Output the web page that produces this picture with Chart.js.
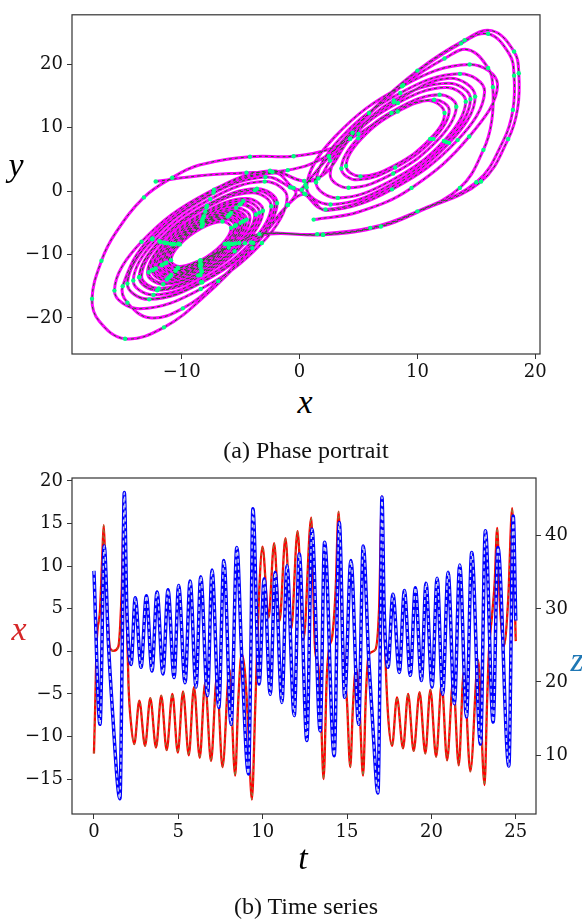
<!DOCTYPE html>
<html>
<head>
<meta charset="utf-8">
<script src="https://cdn.jsdelivr.net/npm/chart.js@4.4.0/dist/chart.umd.min.js"></script>
<style>
body { margin: 0; background: #fff; width: 582px; height: 919px; position: relative; overflow: hidden; }
canvas { position: absolute; left: 0; }
.lbl { position: absolute; font-family: "Liberation Serif", serif; font-style: italic; transform: translate(-50%, -50%); line-height: 1; white-space: nowrap; }
.cap { position: absolute; font-family: "Liberation Serif", serif; font-size: 24px; transform: translate(-50%, -50%); line-height: 1; white-space: nowrap; color: #111; }
</style>
</head>
<body>
<canvas id="phase" width="582" height="380" style="top:0"></canvas>
<canvas id="series" width="582" height="380" style="top:460px"></canvas>
<div class="lbl" style="left:305px;top:402px;font-size:34px">x</div>
<div class="lbl" style="left:16px;top:165px;font-size:34px">y</div>
<div class="cap" style="left:306px;top:450px">(a) Phase portrait</div>
<div class="lbl" style="left:303px;top:858px;font-size:34px">t</div>
<div class="lbl" style="left:19px;top:629px;font-size:34px;color:#d62728">x</div>
<div class="lbl" style="left:577px;top:660px;font-size:34px;color:#1f77b4">z</div>
<div class="cap" style="left:306px;top:906px">(b) Time series</div>
<script>
// phase portrait, x-y pairs, in time order
var phasePoints = [
    [-12.2, 1.5], [-8.5, 2.4], [-4.5, 2.9], [-1, 3.3], [2, 5.2], [4.5, 9.2], [8, 14], [12.7, 17.8], [14.9, 14.9],
    [12.7, 7.6], [7.45, 0.3], [2.2, -2.9], [0.4, -0.4], [0.1, 0.1],
    [0.5, 1.0], [2.5, 5.5], [6, 12.5], [10, 19], [14, 23.8], [16.3, 25.3], [18.2, 22], [18.6, 18.6],
    [18.5, 13], [17.7, 8.2], [15.4, 1.5], [10.3, -3.1], [6.9, -5.6], [2, -6.9], [-3.4, -6.8], [-6, -8.9], [-8.4, -10.9], [-10.2, -11.9], [-10.9, -10.9],
    [-10.15, -8.41], [-8.35, -5.89], [-6.54, -4.81], [-5.8, -5.8], [-6.57, -8.39], [-8.45, -11.01], [-10.33, -12.13], [-11.1, -11.1],
    [-10.28, -8.37], [-8.3, -5.6], [-6.32, -4.41], [-5.5, -5.5], [-6.35, -8.33], [-8.4, -11.2], [-10.45, -12.43], [-11.3, -11.3],
    [-10.41, -8.32], [-8.25, -5.3], [-6.09, -4.01], [-5.2, -5.2], [-6.13, -8.32], [-8.4, -11.49], [-10.67, -12.85], [-11.6, -11.6],
    [-10.64, -8.38], [-8.3, -5.11], [-5.96, -3.71], [-5, -5], [-6.01, -8.37], [-8.45, -11.78], [-10.89, -13.25], [-11.9, -11.9],
    [-10.85, -8.39], [-8.3, -4.82], [-5.75, -3.3], [-4.7, -4.7], [-5.8, -8.36], [-8.45, -12.07], [-11.11, -13.66], [-12.2, -12.2],
    [-11.03, -8.3], [-8.2, -4.34], [-5.37, -2.64], [-4.2, -4.2], [-5.41, -8.25], [-8.35, -12.36], [-11.29, -14.12], [-12.5, -12.5],
    [-11.22, -8.21], [-8.1, -3.85], [-4.98, -1.98], [-3.7, -3.7], [-5.04, -8.19], [-8.3, -12.74], [-11.56, -14.69], [-12.9, -12.9],
    [-11.47, -8.12], [-8.0, -3.27], [-4.53, -1.19], [-3.1, -3.1], [-4.63, -8.22], [-8.35, -13.42], [-12.07, -15.65], [-13.6, -13.6],
    [-11.92, -7.99], [-7.85, -2.3], [-3.78, 0.14], [-2.1, -2.1], [-3.93, -8.2], [-8.35, -14.39], [-12.78, -17.04], [-14.6, -14.6],
    [-12.5, -7.6], [-7.45, -0.5], [-2.9, 2.2], [-0.8, 0.6], [-0.3, -0.3],
    [-1, -2.2], [-4, -9], [-8, -16.5], [-11.5, -21.5], [-14.8, -23.3], [-17, -20.5], [-17.6, -17.0],
    [-16.8, -11], [-15.6, -6.6], [-13.2, -1.0], [-10.8, 2.1], [-8.5, 4.1], [-4.2, 5.4], [-0.5, 5.5], [2.5, 6.6], [5, 9], [7.8, 12.3], [10.9, 14.3], [12.3, 12.3],
    [11.08, 8.23], [8.12, 4.09], [5.17, 2.32], [3.95, 3.95], [5.23, 8.22], [8.33, 12.55], [11.42, 14.41], [12.7, 12.7],
    [11.36, 8.23], [8.12, 3.71], [4.89, 1.77], [3.55, 3.55], [4.97, 8.31], [8.43, 13.13], [11.88, 15.2], [13.3, 13.3],
    [11.74, 8.08], [7.95, 2.78], [4.16, 0.51], [2.6, 2.6], [4.28, 8.21], [8.35, 13.9], [12.42, 16.34], [14.1, 14.1],
    [12.25, 7.9], [7.75, 1.62], [3.25, -1.08], [1.4, 1.4], [3.49, 8.38], [8.55, 15.46], [13.61, 18.49], [15.7, 15.7],
    [13.41, 8.04], [7.85, 0.27], [2.29, -3.06], [0.5, -0.5],
    [-1, -2.2], [-3.5, -7.8], [-6.9, -14.2], [-9.9, -18.5], [-12.7, -20.0], [-14.6, -17.6], [-15.0, -15.0],
    [-12.7, -7.4], [-7.25, 0.2], [-2.5, 3.2], [0.3, 1.6], [1.6, 2.0],
    [2.6, 4.8], [5.3, 11], [8.8, 16.7], [12.3, 20.9], [14.3, 22.3], [16, 19.4], [16.4, 16.4],
    [16.3, 11], [15.6, 6.5], [13.6, 0.5], [9.5, -3.6], [6, -5.8], [1.5, -6.8], [-3.4, -7.0], [-5.5, -9.5], [-8.6, -13.3], [-12.0, -15.6], [-13.6, -13.6],
    [-11.89, -7.89], [-7.75, -2.1], [-3.61, 0.38], [-1.9, -1.9], [-3.75, -8.1], [-8.25, -14.38], [-12.75, -17.08], [-14.6, -14.6],
    [-12.47, -7.48], [-7.3, -0.25], [-2.13, 2.85], [-0.5, 0.5], [0.2, 0.2],
    [0.5, 1.0], [2.5, 5.4], [5.9, 12.3], [9.8, 18.6], [13.7, 23.3], [16, 24.8], [17.8, 21.6], [18.2, 18.2],
    [18.1, 12.8], [17.3, 8], [15, 1.4], [10, -3.2], [6.7, -5.6], [2, -6.9], [-3.4, -6.8], [-6, -8.9], [-8.4, -11.0], [-10.3, -12.1], [-11.1, -11.1],
    [-10.27, -8.32], [-8.25, -5.5], [-6.23, -4.29], [-5.4, -5.4], [-6.28, -8.33], [-8.4, -11.3], [-10.52, -12.57], [-11.4, -11.4],
    [-10.47, -8.28], [-8.2, -5.11], [-5.93, -3.75], [-5, -5], [-5.98, -8.27], [-8.35, -11.59], [-10.72, -13.01], [-11.7, -11.7],
    [-10.69, -8.33], [-8.25, -4.92], [-5.81, -3.45], [-4.8, -4.8], [-5.85, -8.31], [-8.4, -11.88], [-10.95, -13.4], [-12, -12],
    [-10.9, -8.34], [-8.25, -4.63], [-5.59, -3.04], [-4.5, -4.5], [-5.65, -8.36], [-8.45, -12.27], [-11.25, -13.94], [-12.4, -12.4],
    [-11.14, -8.2], [-8.1, -3.95], [-5.06, -2.12], [-3.8, -3.8], [-5.11, -8.19], [-8.3, -12.65], [-11.49, -14.56], [-12.8, -12.8],
    [-11.43, -8.21], [-8.1, -3.56], [-4.77, -1.57], [-3.4, -3.4], [-4.86, -8.28], [-8.4, -13.23], [-11.94, -15.35], [-13.4, -13.4],
    [-11.79, -8.03], [-7.9, -2.59], [-4.01, -0.25], [-2.4, -2.4], [-4.11, -8.11], [-8.25, -13.9], [-12.39, -16.38], [-14.1, -14.1],
    [-12.19, -7.73], [-7.57, -1.27], [-2.96, 1.49], [-1.05, -1.05], [-3.19, -8.2], [-8.38, -15.45], [-13.56, -18.56], [-15.7, -15.7],
    [-13.4, -8.0], [-7.85, -0.3], [-2.3, 3.0], [0.4, 1.6], [2.3, 3.0], [4.3, 8.3], [8.0, 14.3], [12.6, 17.0], [14.5, 14.5],
    [12.47, 7.72], [7.55, 0.84], [2.63, -2.11], [0.6, 0.6], [2.97, 8.51], [8.7, 16.52], [14.43, 19.96], [16.8, 16.8],
    [14.4, 8.6], [9.5, 0.5], [5, -3.3], [1.2, -4.5]
];

// time series x(t), knots at the peaks, troughs and bends
var xTimes = [0, 0.08, 0.16, 0.36, 0.5, 0.58, 0.66, 0.79, 0.95, 1.15, 1.44, 1.64, 1.8, 1.92, 2.05, 2.2,
    2.39, 2.69, 3.03, 3.34, 3.68, 3.99, 4.31, 4.65, 4.97, 5.28, 5.62, 5.93, 6.27, 6.59, 6.94, 7.28, 7.62, 8.03, 8.37,
    8.55, 8.75, 8.95, 9.15, 9.36, 9.56, 9.76, 9.99, 10.35, 10.68, 11.0, 11.35, 11.69, 12.07, 12.42, 12.88,
    13.1, 13.3, 13.45, 13.61, 13.8, 13.95, 14.12, 14.32, 14.5, 14.65, 14.8, 15.0, 15.19, 15.35, 15.53, 15.75, 15.95,
    16.12, 16.28, 16.68, 16.9, 17.07, 17.18, 17.3, 17.45, 17.67, 17.96, 18.32, 18.62, 18.95, 19.3, 19.64, 19.94,
    20.28, 20.61, 20.93, 21.29, 21.62, 21.92, 22.31, 22.77, 23.15, 23.3, 23.42, 23.58, 23.75, 23.9, 24.05, 24.29,
    24.55, 24.79, 25.0];
var xValues = [-12.0, -6.0, 0.9, 4.8, 11.5, 14.8, 11.0, 4.8, 0.4, 0.05, 0.5, 6.8, 18.6, 6.0, -4.0, -8.5,
    -10.9, -5.8, -11.1, -5.5, -11.3, -5.2, -11.6, -5.0, -11.9, -4.7, -12.2, -4.2, -12.5, -3.7, -12.9, -3.1, -13.6, -2.1, -14.6,
    -6.0, -0.3, -2.5, -9.0, -17.4, -6.6, 5.4, 12.3, 3.95, 12.7, 3.55, 13.3, 2.6, 14.1, 1.4, 15.7,
    0.5, -1.8, -7.0, -15.0, -3.0, 0.5, 1.7, 7.0, 16.4, 7.0, -1.1, -6.0, -13.6, -6.5, -1.9, -7.0, -14.6,
    -5.0, -0.4, 0.2, 5.0, 18.2, 6.0, -2.0, -8.0, -11.1, -5.4, -11.4, -5.0, -11.7, -4.8, -12.0, -4.5,
    -12.4, -3.8, -12.8, -3.4, -13.4, -2.4, -14.1, -1.05, -15.7, -6.0, 0.4, 3.9, 8.0, 14.5, 6.0, 0.6,
    6.0, 16.8, 1.2];

// time series z(t)
var zTimes = [0, 0.36, 0.61, 0.85, 1.15, 1.4, 1.54, 1.68, 1.8, 1.95, 2.2, 2.45, 2.79, 3.11, 3.44, 3.74, 4.09, 4.39,
    4.75, 5.02, 5.4, 5.7, 6.05, 6.33, 6.73, 7.0, 7.4, 7.7, 8.13, 8.47, 8.77, 9.16, 9.3, 9.42, 9.79, 10.09,
    10.45, 10.74, 11.14, 11.44, 11.87, 12.17, 12.62, 12.92, 13.41, 13.67, 14.24, 14.54, 14.86, 15.23, 15.69,
    15.96, 16.28, 16.58, 16.83, 16.97, 17.07, 17.2, 17.43, 17.72, 18.1, 18.4, 18.75, 19.05, 19.41, 19.68,
    20.04, 20.34, 20.67, 20.99, 21.36, 21.68, 22.08, 22.39, 22.91, 23.2, 23.66, 23.94, 24.59, 24.85, 25.0];
var zValues = [35.2, 14.2, 38.6, 25.6, 14.2, 6.0, 4.0, 25.0, 45.9, 30.0, 22.4, 31.5, 22.0, 31.8, 21.5, 32.3, 21.1, 32.6,
    20.6, 33.2, 19.9, 33.8, 19.3, 34.4, 18.1, 35.3, 16.5, 36.6, 14.2, 38.4, 22.9, 7.4, 24.0, 43.7, 19.7, 34.1,
    18.3, 35.0, 17.2, 35.9, 15.4, 37.5, 12.0, 40.9, 13.3, 39.1, 9.9, 41.8, 17.9, 36.6, 14.2,
    38.6, 23.4, 12.0, 4.8, 25.0, 45.3, 30.0, 22.0, 32.0, 21.3, 32.5, 20.9, 32.9, 20.2, 33.5,
    19.3, 34.2, 18.3, 35.0, 17.0, 36.0, 15.2, 37.7, 11.5, 40.7, 14.5, 38.4, 8.5, 42.7, 28.4];

var phaseXTicks = [-10, 0, 10, 20];
var phaseYTicks = [-20, -10, 0, 10, 20];
var timeTicks = [0, 5, 10, 15, 20, 25];
var xSeriesTicks = [-15, -10, -5, 0, 5, 10, 15, 20];
var zTicks = [10, 20, 30, 40];

function minus(v) {
    return v < 0 ? '\u2212' + Math.abs(v) : '' + v;
}

function axis(pos, min, max, ticks, size) {
    var vertical = pos == 'left' || pos == 'right';
    return {
        type: 'linear',
        position: pos,
        min: min,
        max: max,
        afterBuildTicks: function (s) {
            s.ticks = ticks.map(function (v) { return { value: v }; });
        },
        afterFit: function (s) {
            if (vertical) s.width = size; else s.height = size;
        },
        grid: { display: true, drawOnChartArea: false, drawTicks: true, tickLength: 5, color: '#333', lineWidth: 1 },
        border: { display: false },
        ticks: {
            color: '#111',
            font: { family: 'DejaVu Serif', size: 18 },
            padding: vertical ? 4 : 3,
            maxRotation: 0,
            autoSkip: false,
            callback: minus
        }
    };
}

var frame = {
    id: 'frame',
    afterDraw: function (c) {
        var a = c.chartArea, g = c.ctx;
        g.save();
        g.strokeStyle = '#333';
        g.lineWidth = 1.2;
        g.strokeRect(a.left, a.top, a.right - a.left, a.bottom - a.top);
        g.restore();
    }
};

var pts = phasePoints.map(function (p) { return { x: p[0], y: p[1] }; });

// markers on a stride that does not line up with the loops, so they don't stack in rows
function markerSize(ctx) {
    return ctx.dataIndex % 3 == 1 ? 0 : 2.2;
}

new Chart(document.getElementById('phase'), {
    type: 'scatter',
    data: {
        datasets: [{
            data: pts,
            showLine: true,
            borderColor: '#ff00ff',
            borderWidth: 3,
            pointRadius: 0,
            tension: 0.4,
            order: 2
        }, {
            data: pts,
            showLine: true,
            borderColor: '#1f6e1f',
            borderWidth: 1,
            borderDash: [3, 3],
            pointRadius: markerSize,
            pointBackgroundColor: '#00ff7f',
            pointBorderWidth: 0,
            tension: 0.4,
            order: 1
        }]
    },
    options: {
        responsive: false,
        animation: false,
        layout: { padding: { top: 6, right: 42, left: 0, bottom: 0 } },
        plugins: { legend: { display: false }, tooltip: { enabled: false } },
        scales: {
            x: axis('bottom', -19.3, 20.4, phaseXTicks, 26),
            y: axis('left', -25.7, 27.8, phaseYTicks, 72)
        }
    },
    plugins: [frame]
});

var xPts = xTimes.map(function (t, i) { return { x: t, y: xValues[i] }; });
var zPts = zTimes.map(function (t, i) { return { x: t, y: zValues[i] }; });

new Chart(document.getElementById('series'), {
    type: 'line',
    data: {
        datasets: [{
            data: xPts, yAxisID: 'yx', borderColor: '#ff0000', borderWidth: 2.3,
            pointRadius: 0, cubicInterpolationMode: 'monotone', order: 4
        }, {
            data: xPts, yAxisID: 'yx', borderColor: '#8a7a3a', borderWidth: 1.1, borderDash: [3, 3],
            pointRadius: 0, cubicInterpolationMode: 'monotone', order: 3
        }, {
            data: zPts, yAxisID: 'yz', borderColor: '#0000ff', borderWidth: 3.5,
            pointRadius: 0, cubicInterpolationMode: 'monotone', order: 2
        }, {
            data: zPts, yAxisID: 'yz', borderColor: '#c8d0f0', borderWidth: 1.4, borderDash: [4, 3],
            pointRadius: 0, cubicInterpolationMode: 'monotone', order: 1
        }]
    },
    options: {
        responsive: false,
        animation: false,
        layout: { padding: { top: 18, right: 0, left: 0, bottom: 0 } },
        plugins: { legend: { display: false }, tooltip: { enabled: false } },
        scales: {
            x: axis('bottom', -1.3, 26.2, timeTicks, 26),
            yx: axis('left', -19.1, 20.35, xSeriesTicks, 72),
            yz: axis('right', 1.93, 47.9, zTicks, 46)
        }
    },
    plugins: [frame]
});
</script>
</body>
</html>
